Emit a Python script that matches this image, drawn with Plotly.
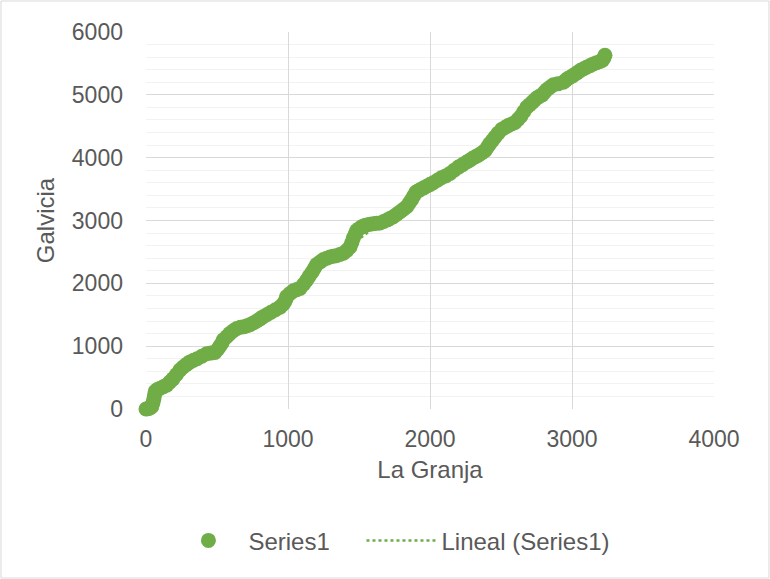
import numpy as np
import plotly.graph_objects as go

# Data (La Granja vs Galvicia)
la_granja = [0, 10, 20, 30, 40, 48, 55, 60, 65, 80, 100, 122, 146, 168, 190, 215, 239, 260, 280, 295,
             310, 335, 360, 393, 427, 456, 486, 505, 520, 535, 545, 568, 590, 615, 639, 665, 690, 712,
             732, 756, 780, 803, 826, 853, 880, 912, 944, 962, 975, 985, 991, 1015, 1038, 1062, 1085,
             1110, 1131, 1150, 1170, 1186, 1202, 1226, 1250, 1273, 1296, 1318, 1340, 1365, 1390, 1415,
             1437, 1450, 1460, 1472, 1484, 1502, 1520, 1537, 1554, 1577, 1600, 1624, 1648, 1674, 1700,
             1721, 1742, 1766, 1790, 1813, 1836, 1853, 1870, 1885, 1900, 1915, 1930, 1955, 1980, 2002,
             2023, 2052, 2080, 2110, 2141, 2170, 2200, 2230, 2258, 2280, 2300, 2320, 2341, 2364, 2387,
             2404, 2420, 2440, 2458, 2480, 2505, 2528, 2550, 2575, 2599, 2620, 2640, 2660, 2681, 2700,
             2720, 2736, 2751, 2770, 2790, 2806, 2822, 2845, 2869, 2900, 2939, 2955, 2970, 2990, 3009,
             3035, 3060, 3082, 3103, 3127, 3150, 3173, 3197, 3215, 3225, 3232]
galvicia = [0, 5, 10, 20, 35, 90, 150, 215, 280, 310, 330, 355, 380, 430, 480, 550, 620, 665, 700, 725,
            750, 775, 800, 840, 880, 890, 900, 950, 1000, 1050, 1100, 1150, 1200, 1245, 1280, 1300, 1310,
            1325, 1340, 1370, 1400, 1435, 1470, 1505, 1540, 1580, 1620, 1660, 1700, 1745, 1790, 1840,
            1880, 1900, 1920, 1985, 2050, 2115, 2180, 2240, 2300, 2340, 2380, 2400, 2420, 2430, 2440,
            2460, 2480, 2525, 2580, 2650, 2720, 2780, 2840, 2870, 2900, 2915, 2930, 2940, 2950, 2955,
            2960, 2985, 3010, 3035, 3060, 3100, 3140, 3180, 3220, 3275, 3330, 3390, 3450, 3470, 3490,
            3520, 3550, 3575, 3600, 3640, 3680, 3710, 3750, 3800, 3850, 3890, 3930, 3960, 3990, 4015,
            4040, 4075, 4110, 4165, 4220, 4275, 4330, 4390, 4450, 4480, 4510, 4535, 4560, 4610, 4660,
            4730, 4800, 4840, 4880, 4915, 4950, 4975, 5000, 5040, 5080, 5120, 5160, 5175, 5200, 5230,
            5260, 5285, 5310, 5350, 5390, 5415, 5440, 5465, 5490, 5510, 5530, 5550, 5590, 5630]

x_ticks = [0, 1000, 2000, 3000, 4000]
y_ticks = [0, 1000, 2000, 3000, 4000, 5000, 6000]

series_name = "Series1"
trend_name = "Lineal (Series1)"

GREEN = "#70AD47"
TEXT = "#595959"
FONT = "Liberation Sans, Arial, sans-serif"

# Linear trendline fitted to the series
xs = np.array(la_granja, dtype=float)
ys = np.array(galvicia, dtype=float)
slope, intercept = np.polyfit(xs, ys, 1)
trend_x = [xs.min(), xs.max()]
trend_y = [slope * v + intercept for v in trend_x]

fig = go.Figure()
fig.add_trace(go.Scatter(
    x=trend_x, y=trend_y, mode="lines", name=trend_name,
    line=dict(color=GREEN, width=2.5, dash="dot"), cliponaxis=False,
    legendrank=2,
))
fig.add_trace(go.Scatter(
    x=la_granja, y=galvicia, mode="markers", name=series_name + "\u00a0\u00a0\u00a0\u00a0",
    marker=dict(color=GREEN, size=15, line=dict(width=0)), cliponaxis=False,
    legendrank=1,
))

fig.update_layout(
    width=770, height=579,
    margin=dict(l=146, r=56, t=32, b=170, autoexpand=False),
    paper_bgcolor="white", plot_bgcolor="white",
    font=dict(family=FONT, size=23, color=TEXT),
    showlegend=True,
    legend=dict(
        orientation="h", xref="container", yref="container",
        x=0.509, xanchor="center", y=0.066, yanchor="middle",
        font=dict(size=24, color=TEXT), itemwidth=70,
        bgcolor="rgba(0,0,0,0)", traceorder="normal",
    ),
    shapes=[dict(
        type="rect", xref="paper", yref="paper",
        x0=-0.2553, x1=1.0968, y0=-0.4483, y1=1.0822,
        line=dict(color="#D9D9D9", width=1), layer="below",
    )],
)

fig.update_xaxes(
    range=[0, 4000], tickvals=x_ticks, showgrid=True, gridcolor="#D9D9D9", gridwidth=1.3,
    zeroline=False, showline=False, ticks="", ticklabelstandoff=14,
    title=dict(text="La Granja", standoff=10, font=dict(size=24, color=TEXT)),
    tickfont=dict(size=23, color=TEXT), automargin=False,
)
fig.update_yaxes(
    range=[0, 6000], tickvals=y_ticks, showgrid=True, gridcolor="#D9D9D9", gridwidth=1.3,
    zeroline=False, showline=False, ticks="", ticklabelstandoff=22,
    minor=dict(dtick=200, showgrid=True, gridcolor="#F2F2F2", gridwidth=1.3),
    title=dict(text="Galvicia", standoff=10, font=dict(size=24, color=TEXT)),
    tickfont=dict(size=23, color=TEXT), automargin=False,
)

fig.write_html(
    "out.html",
    config={"displayModeBar": False},
    post_script="document.body.style.margin='0';document.body.style.overflow='hidden';",
)
